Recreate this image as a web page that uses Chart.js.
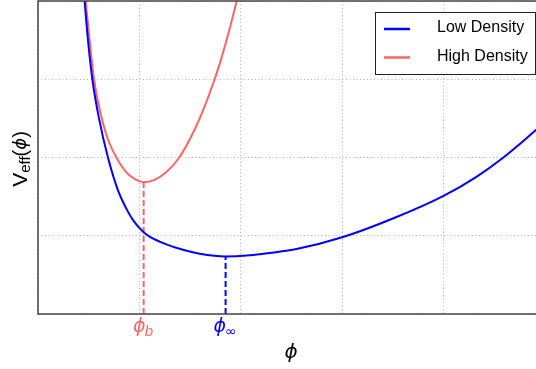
<!DOCTYPE html>
<html>
<head>
<meta charset="utf-8">
<script src="https://cdn.jsdelivr.net/npm/chart.js@4.4.0/dist/chart.umd.min.js"></script>
<style>
    html, body { margin: 0; padding: 0; background: #fff; overflow: hidden; }
    #wrap { width: 545px; height: 369px; }
</style>
</head>
<body>
<div id="wrap"><canvas id="potChart" width="545" height="369"></canvas></div>
<script>
// Values (phi on x, V_eff on y)
const lowPhi = [0.44, 0.46, 0.487, 0.536, 0.60, 0.69, 0.789, 0.87, 0.937, 1.042, 1.10, 1.266, 1.43, 1.595, 1.85, 2.09, 2.285, 2.55, 3.0, 3.5, 4.0, 4.32, 4.59, 4.91, 5.0];
const lowV   = [4.35, 4.0, 3.58, 3.0, 2.51, 2.0, 1.58, 1.35, 1.20, 1.045, 0.99, 0.89, 0.82, 0.77, 0.735, 0.75, 0.78, 0.83, 0.98, 1.22, 1.51, 1.75, 2.0, 2.35, 2.46];
const highPhi = [0.44, 0.47, 0.553, 0.635, 0.69, 0.773, 0.872, 0.96, 1.042, 1.15, 1.266, 1.393, 1.496, 1.595, 1.74, 1.86, 1.96, 2.0];
const highV   = [4.4, 4.0, 3.0, 2.47, 2.23, 2.0, 1.81, 1.72, 1.685, 1.715, 1.815, 2.0, 2.23, 2.50, 2.99, 3.5, 4.0, 4.2];

const seriesLabels = ['Low Density', 'High Density'];
const seriesColors = ['#0000ff', '#ff6464'];

// Minimum of each curve, marked with a dashed drop line and a label
const minPhi = [1.85, 1.042];
const minV = [0.735, 1.685];
const minSub = ['\u221e', 'b'];

const xTicks = [0, 1, 2, 3, 4, 5];
const yTicks = [0, 1, 2, 3, 4];

function toPoints(xs, ys) {
    return xs.map((x, i) => ({ x: x, y: ys[i] }));
}

const datasets = [
    { label: seriesLabels[0], data: toPoints(lowPhi, lowV), borderColor: seriesColors[0], borderWidth: 2, cubicInterpolationMode: 'monotone' },
    { label: seriesLabels[1], data: toPoints(highPhi, highV), borderColor: seriesColors[1], borderWidth: 2, cubicInterpolationMode: 'monotone' }
];
minPhi.forEach((p, i) => {
    datasets.push({
        label: '',
        data: [{ x: p, y: 0 }, { x: p, y: minV[i] }],
        borderColor: seriesColors[i],
        borderWidth: 2,
        borderDash: [6, 3],
        tension: 0
    });
});
datasets.forEach(ds => {
    ds.showLine = true;
    ds.pointRadius = 0;
    ds.fill = false;
});

// frame, legend box and math-style labels
const decorations = {
    id: 'decorations',
    afterDraw(chart) {
        const ctx = chart.ctx;
        const area = chart.chartArea;
        const xs = chart.scales.x;
        ctx.save();

        // axes frame
        ctx.setLineDash([]);
        ctx.strokeStyle = '#444';
        ctx.lineWidth = 1.5;
        ctx.strokeRect(area.left, area.top, area.right - area.left, area.bottom - area.top);

        // legend
        ctx.fillStyle = '#fff';
        ctx.fillRect(375, 12, 160, 62);
        ctx.strokeStyle = '#222';
        ctx.lineWidth = 1;
        ctx.strokeRect(375.5, 12.5, 160, 62);
        ctx.font = '16px "Liberation Sans", Arial, sans-serif';
        ctx.textBaseline = 'middle';
        ctx.textAlign = 'left';
        for (let i = 0; i < 2; i++) {
            const y = 29 + i * 28.5;
            ctx.strokeStyle = seriesColors[i];
            ctx.lineWidth = 2.5;
            ctx.beginPath();
            ctx.moveTo(384, y);
            ctx.lineTo(410, y);
            ctx.stroke();
            ctx.fillStyle = '#000';
            ctx.fillText(seriesLabels[i], 437, y - 1);
        }

        // labels under the drop lines
        const phiFont = 'italic 19px "DejaVu Sans", sans-serif';
        minPhi.forEach((p, i) => {
            const cx = xs.getPixelForValue(p);
            const subFont = (minSub[i] === 'b' ? 'italic ' : '') + '14px "DejaVu Sans", sans-serif';
            ctx.font = phiFont;
            const w1 = ctx.measureText('\u03d5').width;
            ctx.font = subFont;
            const w2 = ctx.measureText(minSub[i]).width;
            const x0 = cx - (w1 + w2) / 2;
            ctx.fillStyle = seriesColors[i];
            ctx.font = phiFont;
            ctx.fillText('\u03d5', x0, 327);
            ctx.font = subFont;
            ctx.fillText(minSub[i], x0 + w1 - 1, 332);
        });

        // x axis label
        ctx.fillStyle = '#000';
        ctx.textAlign = 'center';
        ctx.font = 'italic 20px "DejaVu Sans", sans-serif';
        ctx.fillText('\u03d5', 291, 353);

        // y axis label, rotated
        ctx.translate(21, 159);
        ctx.rotate(-Math.PI / 2);
        ctx.textAlign = 'left';
        const parts = [
            { t: 'V', f: '21px "Liberation Sans", Arial, sans-serif', dy: 0 },
            { t: 'eff', f: '15px "Liberation Sans", Arial, sans-serif', dy: 5 },
            { t: '(', f: '20px "Liberation Sans", Arial, sans-serif', dy: 0 },
            { t: '\u03d5', f: 'italic 18px "DejaVu Sans", sans-serif', dy: 0 },
            { t: ')', f: '20px "Liberation Sans", Arial, sans-serif', dy: 0 }
        ];
        let total = 0;
        parts.forEach(pt => { ctx.font = pt.f; pt.w = ctx.measureText(pt.t).width; total += pt.w; });
        let px = -total / 2;
        parts.forEach(pt => {
            ctx.font = pt.f;
            ctx.fillText(pt.t, px, pt.dy);
            px += pt.w;
        });
        ctx.restore();
    }
};

function hiddenAxis(min, max, ticks) {
    return {
        type: 'linear',
        min: min,
        max: max,
        afterBuildTicks(scale) {
            scale.ticks = ticks.map(v => ({ value: v }));
        },
        afterFit(scale) {
            if (scale.isHorizontal()) scale.height = 0;
            else scale.width = 0;
        },
        ticks: { display: false },
        grid: { color: '#b0b0b0', lineWidth: 1, drawTicks: false },
        border: { display: false, dash: [1, 2.5] }
    };
}

new Chart(document.getElementById('potChart').getContext('2d'), {
    type: 'scatter',
    data: { datasets: datasets },
    options: {
        responsive: false,
        animation: false,
        layout: { padding: { left: 38, top: 1, right: 0, bottom: 55 } },
        plugins: {
            legend: { display: false },
            tooltip: { enabled: false }
        },
        scales: {
            x: hiddenAxis(0, 5, xTicks),
            y: hiddenAxis(0, 4, yTicks)
        }
    },
    plugins: [decorations]
});
</script>
</body>
</html>
